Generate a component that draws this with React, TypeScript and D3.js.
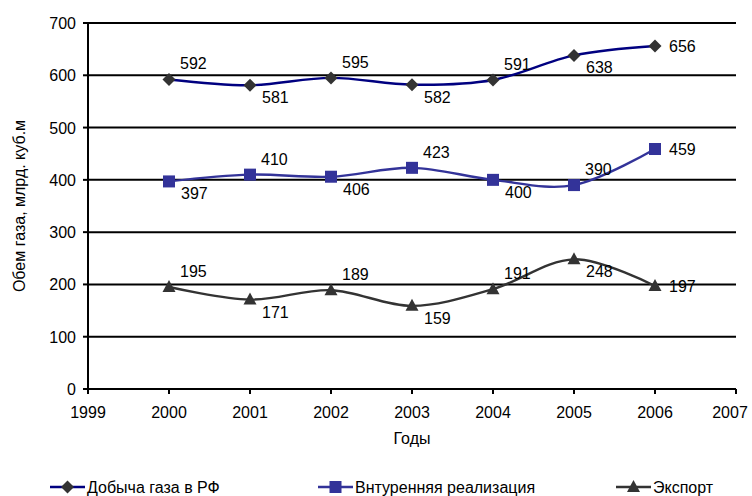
import React from "react";
import * as d3 from "d3";

const years = [2000, 2001, 2002, 2003, 2004, 2005, 2006];
const xTicks = [1999, 2000, 2001, 2002, 2003, 2004, 2005, 2006, 2007];
const yTicks = [0, 100, 200, 300, 400, 500, 600, 700];

const production = [592, 581, 595, 582, 591, 638, 656];
const domestic = [397, 410, 406, 423, 400, 390, 459];
const exportVals = [195, 171, 189, 159, 191, 248, 197];

const productionLabelSide = ["up", "down", "up", "down", "up", "down", "right"];
const domesticLabelSide = ["down", "up", "down", "up", "down", "up", "right"];
const exportLabelSide = ["up", "down", "up", "down", "up", "down", "right"];

const seriesNames = ["Добыча газа в РФ", "Внтуренняя реализация", "Экспорт"];

const FONT = "Arial, 'Liberation Sans', sans-serif";

type Series = {
  name: string;
  values: number[];
  sides: string[];
  line: string;
  marker: string;
  shape: "diamond" | "square" | "triangle";
};

const series: Series[] = [
  { name: seriesNames[0], values: production, sides: productionLabelSide, line: "#000080", marker: "#333333", shape: "diamond" },
  { name: seriesNames[1], values: domestic, sides: domesticLabelSide, line: "#333399", marker: "#333399", shape: "square" },
  { name: seriesNames[2], values: exportVals, sides: exportLabelSide, line: "#333333", marker: "#333333", shape: "triangle" },
];

function Marker({ shape, x, y, color }: { shape: string; x: number; y: number; color: string }) {
  if (shape === "diamond") {
    return <path d={`M${x},${y - 6.5}L${x + 6.5},${y}L${x},${y + 6.5}L${x - 6.5},${y}Z`} fill={color} />;
  }
  if (shape === "square") {
    return <rect x={x - 6} y={y - 6} width={12} height={12} fill={color} />;
  }
  return <path d={`M${x},${y - 7}L${x + 6.5},${y + 5}L${x - 6.5},${y + 5}Z`} fill={color} />;
}

export default function App() {
  const left = 88, right = 736, top = 23, bottom = 389;
  const x = d3.scaleLinear().domain([1999, 2007]).range([left, right]);
  const y = d3.scaleLinear().domain([0, 700]).range([bottom, top]);

  const lineGen = d3
    .line<number>()
    .x((_, i) => x(years[i]))
    .y((d) => y(d))
    .curve(d3.curveCardinal.tension(0));

  const labelPos = (side: string, px: number, py: number) => {
    if (side === "up") return { lx: px + 11, ly: py - 10 };
    if (side === "down") return { lx: px + 12, ly: py + 18 };
    return { lx: px + 14, ly: py + 6 };
  };

  const legendItems = [
    { x0: 50, x1: 85, tx: 87 },
    { x0: 318, x1: 353, tx: 355 },
    { x0: 616, x1: 651, tx: 653 },
  ];
  const legendY = 487;

  return (
    <svg
      width={752}
      height={496}
      style={{ position: "absolute", left: 0, top: 0, background: "#fff" }}
      fontFamily={FONT}
    >
      <rect width={752} height={496} fill="#fff" />
      {yTicks.filter((t) => t > 0).map((t) => (
        <line key={t} x1={left} x2={right} y1={y(t)} y2={y(t)} stroke="#000" strokeWidth={2} />
      ))}
      <line x1={left} x2={left} y1={top} y2={bottom} stroke="#000" strokeWidth={2} />
      <line x1={left} x2={right} y1={bottom} y2={bottom} stroke="#000" strokeWidth={2} />
      {yTicks.map((t) => (
        <g key={t}>
          <line x1={left - 5} x2={left} y1={y(t)} y2={y(t)} stroke="#000" strokeWidth={2} />
          <text x={76} y={y(t) + 6} textAnchor="end" fontSize={16} fill="#000">
            {t}
          </text>
        </g>
      ))}
      {xTicks.map((t) => (
        <g key={t}>
          <line x1={x(t)} x2={x(t)} y1={bottom} y2={bottom + 5} stroke="#000" strokeWidth={2} />
          <text x={Math.min(x(t), 730)} y={418} textAnchor="middle" fontSize={16} fill="#000">
            {t}
          </text>
        </g>
      ))}
      <text x={(left + right) / 2} y={444} textAnchor="middle" fontSize={16} fill="#000">
        Годы
      </text>
      <text
        transform={`translate(25, ${(top + bottom) / 2}) rotate(-90)`}
        textAnchor="middle"
        fontSize={16}
        fill="#000"
      >
        Обем газа, млрд. куб.м
      </text>

      {series.map((s) => (
        <g key={s.name}>
          <path d={lineGen(s.values) || ""} fill="none" stroke={s.line} strokeWidth={2.4} />
          {s.values.map((v, i) => (
            <Marker key={i} shape={s.shape} x={x(years[i])} y={y(v)} color={s.marker} />
          ))}
          {s.values.map((v, i) => {
            const { lx, ly } = labelPos(s.sides[i], x(years[i]), y(v));
            return (
              <text key={"l" + i} x={lx} y={ly} fontSize={16} fill="#000">
                {v}
              </text>
            );
          })}
        </g>
      ))}

      {series.map((s, i) => {
        const it = legendItems[i];
        return (
          <g key={"leg" + i}>
            <line x1={it.x0} x2={it.x1} y1={legendY} y2={legendY} stroke={s.line} strokeWidth={2.4} />
            <Marker shape={s.shape} x={(it.x0 + it.x1) / 2} y={legendY} color={s.marker} />
            <text x={it.tx} y={legendY + 6} fontSize={16} fill="#000">
              {s.name}
            </text>
          </g>
        );
      })}
    </svg>
  );
}
